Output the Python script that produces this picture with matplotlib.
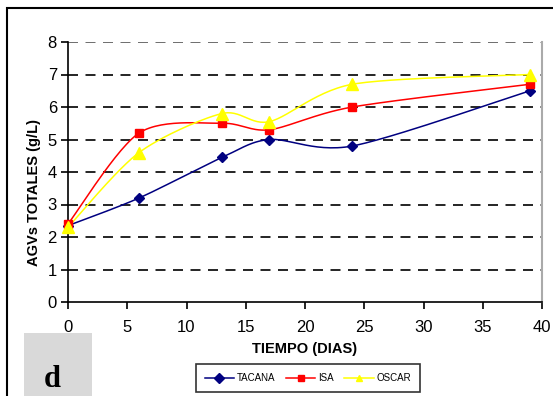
import numpy as np
import matplotlib
matplotlib.use("Agg")
import matplotlib.pyplot as plt
from matplotlib.patches import Rectangle
from matplotlib.lines import Line2D

# datos
dias = [0, 6, 13, 17, 24, 39]
tacana = [2.35, 3.2, 4.45, 5.0, 4.8, 6.5]
isa = [2.4, 5.2, 5.5, 5.3, 6.0, 6.7]
oscar = [2.3, 4.6, 5.8, 5.55, 6.7, 7.0]
nombres = ["TACANA", "ISA", "OSCAR"]

plt.rcParams["font.family"] = ["Liberation Sans", "DejaVu Sans"]


def suavizar(x, y, n=30):
    # curva suave tipo Excel (Catmull-Rom)
    x = np.asarray(x, float)
    y = np.asarray(y, float)
    px = np.concatenate([[x[0]], x, [x[-1]]])
    py = np.concatenate([[y[0]], y, [y[-1]]])
    xs, ys = [], []
    t = np.linspace(0, 1, n)
    for i in range(1, len(px) - 2):
        p0, p1, p2, p3 = [np.array([px[j], py[j]]) for j in range(i - 1, i + 3)]
        c1 = p1 + (p2 - p0) / 7
        c2 = p2 - (p3 - p1) / 7
        pts = ((1 - t) ** 3)[:, None] * p1 + (3 * (1 - t) ** 2 * t)[:, None] * c1 \
            + (3 * (1 - t) * t ** 2)[:, None] * c2 + (t ** 3)[:, None] * p2
        xs.extend(pts[:, 0])
        ys.extend(pts[:, 1])
    return xs, ys


fig = plt.figure(figsize=(5.53, 3.96), dpi=100)
ax = fig.add_axes([68 / 553, 94 / 396, 474 / 553, 260 / 396])

series = [
    (tacana, "#000080", "D", 5),
    (isa, "#ff0000", "s", 6),
    (oscar, "#ffff00", "^", 8),
]
for (vals, color, mk, ms) in series:
    sx, sy = suavizar(dias, vals)
    ax.plot(sx, sy, color=color, lw=1.1, zorder=3)
    ax.plot(dias, vals, linestyle="none", marker=mk, color=color, ms=ms, zorder=4, clip_on=False)

ax.set_xlim(0, 40)
ax.set_ylim(0, 8)
ax.set_xticks(range(0, 41, 5))
ax.set_yticks(range(0, 9))
for yv in range(1, 9):
    ax.axhline(yv, color="#555555" if yv == 8 else "black", lw=1.2,
               dashes=(6, 4.5), zorder=1)
ax.tick_params(labelsize=12, direction="out", length=5, width=1.2, pad=8)
ax.tick_params(axis="y", pad=3)
ax.spines["top"].set_visible(False)
ax.spines["right"].set_color("#aaaaaa")
ax.spines["right"].set_linewidth(1.5)
ax.spines["left"].set_linewidth(1.2)
ax.spines["bottom"].set_linewidth(1.2)

ax.set_xlabel("TIEMPO (DIAS)", fontsize=10.5, fontweight="bold", labelpad=5)
ax.set_ylabel("AGVs TOTALES (g/L)", fontsize=10.5, fontweight="bold")
ax.yaxis.set_label_coords(-0.056, 0.42)

handles = [Line2D([], [], color=c, marker=m, ms=5, lw=1.1) for (_, c, m, _) in series]
leg = fig.legend(handles, nombres, loc="center", bbox_to_anchor=(308 / 553, 18 / 396),
                 ncol=3, fontsize=7, frameon=True, fancybox=False, edgecolor="black",
                 handlelength=3.0, handletextpad=0.3, columnspacing=1.1,
                 borderpad=0.9, borderaxespad=0)
leg.get_frame().set_linewidth(1.2)

# recuadro exterior
fig.add_artist(Rectangle((7 / 553, -0.2), 1.2, (396 - 8) / 396 + 0.2, transform=fig.transFigure,
                         fill=False, edgecolor="black", lw=1.5))
# recuadro "d"
fig.add_artist(Rectangle((24 / 553, -0.05), 68 / 553, (396 - 333) / 396 + 0.05,
                         transform=fig.transFigure, facecolor="#d9d9d9", edgecolor="none"))
fig.text(52 / 553, 2 / 396, "d", fontsize=22, fontweight="bold", family="Liberation Serif",
         ha="center", va="bottom")

fig.savefig("out.png", dpi=100)
